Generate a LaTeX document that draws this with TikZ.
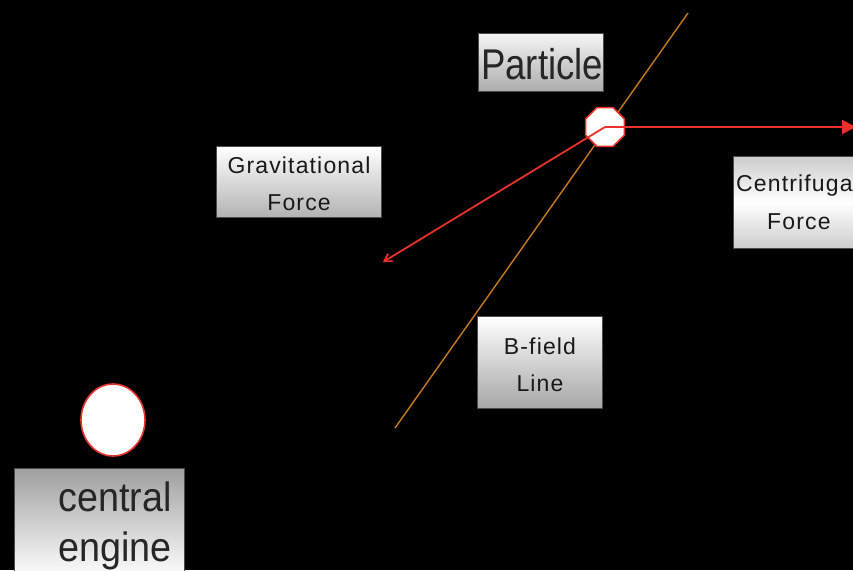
\documentclass[tikz,border=0pt]{standalone}
\usepackage{fontspec}
\setmainfont{Liberation Sans}
\usetikzlibrary{shapes.geometric,arrows.meta}
\definecolor{arrowred}{HTML}{E8322A}
\definecolor{fieldorange}{HTML}{C67A1E}
\newfontfamily\spacedfont[LetterSpace=5]{Liberation Sans}
\tikzset{
  labelbox/.style={draw=gray!60!black, line width=0.8pt, inner sep=0pt},
  force/.style={draw=arrowred, line width=1.8pt},
  body/.style={draw=arrowred, line width=1.6pt, fill=white},
  smalltext/.style={font=\fontsize{23}{37}\selectfont\spacedfont, align=center, text=black!90},
  bigtext/.style={font=\fontsize{43}{53}\selectfont, text=black!85}
}
\begin{document}
\begin{tikzpicture}[x=1pt,y=-1pt]
  \fill[black] (0,0) rectangle (853,570);
  \useasboundingbox (0,0) rectangle (853,570);

  % magnetic field line through the particle
  \coordinate (fieldLow) at (395,428);
  \coordinate (fieldHigh) at (688,13);
  \draw[draw=fieldorange, line width=1.4pt] (fieldLow) -- (fieldHigh);

  % label boxes
  \node[labelbox, minimum width=125, minimum height=58, anchor=north west,
        top color=gray!8, bottom color=gray!65] (particleBox) at (478,33) {};
  \begin{scope}
    \clip (particleBox.north west) rectangle (particleBox.south east);
    \node[bigtext, anchor=west, xscale=0.85, inner sep=0pt] (particleText) at (481,64) {Particle};
  \end{scope}

  \node[labelbox, minimum width=165, minimum height=71, anchor=north west,
        top color=white, bottom color=gray!60] (gravBox) at (216,146) {};
  \node[smalltext] (gravText) at (299,184) {Gravitational\\Force};

  \node[labelbox, minimum width=130, minimum height=92, anchor=north west,
        top color=gray!40, bottom color=gray!40, middle color=white] (centBox) at (733,156) {};
  \node[smalltext, anchor=west, inner sep=0pt] (centText) at (736,186) {Centrifugal};
  \node[smalltext, anchor=west, inner sep=0pt] (centForce) at (767,222) {Force};

  \node[labelbox, minimum width=125, minimum height=92, anchor=north west,
        top color=white, bottom color=gray!70] (fieldBox) at (477,316) {};
  \node[smalltext] (fieldText) at (540,365) {B-field\\Line};

  \node[labelbox, minimum width=170, minimum height=110, anchor=north west,
        top color=gray!75, bottom color=white] (engineBox) at (14,468) {};
  \node[bigtext, font=\fontsize{41}{50}\selectfont, anchor=north east, align=right,
        xscale=0.92, inner sep=0pt] (engineText) at (172,482) {central\\engine};

  % the particle and the central engine
  \node[body, regular polygon, regular polygon sides=8,
        minimum size=42, inner sep=0pt] (particle) at (605,127) {};
  \node[body, ellipse, minimum width=64, minimum height=72, inner sep=0pt] (engine) at (113,420) {};

  % forces acting on the particle
  \coordinate (gravEnd) at (383,262);
  \coordinate (centEnd) at (856,127);
  \draw[force, -{Straight Barb[length=7pt,width=9pt]}] (particle.center) -- (gravEnd);
  \draw[force, -{Triangle[length=14pt,width=14pt]}] (particle.center) -- (centEnd);
\end{tikzpicture}
\end{document}
